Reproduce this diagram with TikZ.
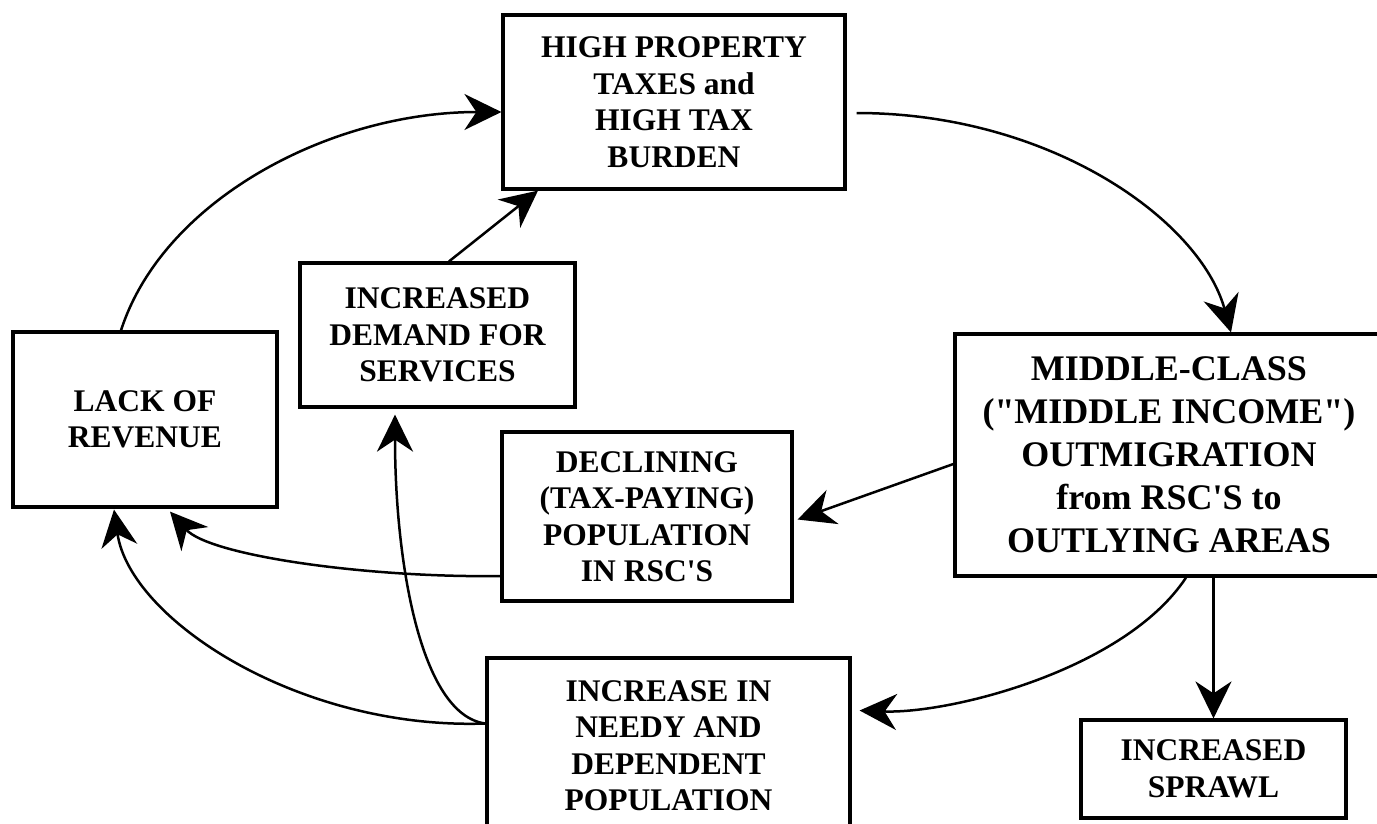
\documentclass[tikz,border=0pt]{standalone}
\usepackage{fontspec}
\newfontfamily\diagfont{Liberation Serif}
\usetikzlibrary{arrows.meta}
\begin{document}
\begin{tikzpicture}[x=1pt,y=-1pt]
\tikzset{
  box/.style={draw, line width=3.2pt, align=center, inner sep=0pt,
    font=\diagfont\bfseries\fontsize{31.5}{36.5}\selectfont},
  bigbox/.style={box, font=\diagfont\bfseries\fontsize{36}{43}\selectfont},
  conn/.style={line width=2.5pt, -{Stealth[length=37pt,width=36pt,inset=12pt]}}
}
\useasboundingbox (0,0) rectangle (1377,823);
\clip (0,0) rectangle (1377,823);
\fill[white] (0,0) rectangle (1377,823);

\node[box, minimum width=342pt, minimum height=174pt] (high) at (674,102)
  {HIGH PROPERTY\\TAXES and\\HIGH TAX\\BURDEN};
\node[box, minimum width=275pt, minimum height=144pt] (demand) at (437.5,335)
  {INCREASED\\DEMAND FOR\\SERVICES};
\node[box, minimum width=264pt, minimum height=175pt] (lack) at (145,419.5)
  {LACK OF\\REVENUE};
\node[box, minimum width=290pt, minimum height=169pt] (declining) at (647,516.5)
  {DECLINING\\(TAX-PAYING)\\POPULATION\\IN RSC'S};
\node[bigbox, minimum width=428pt, minimum height=242pt] (middle) at (1169,455)
  {MIDDLE-CLASS\\("MIDDLE INCOME")\\OUTMIGRATION\\from RSC'S to\\OUTLYING AREAS};
\node[box, minimum width=363pt, minimum height=175pt] (needy) at (668.5,745.5)
  {INCREASE IN\\NEEDY AND\\DEPENDENT\\POPULATION};
\node[box, minimum width=265pt, minimum height=98pt] (sprawl) at (1213.5,769)
  {INCREASED\\SPRAWL};

% connectors
\draw[conn] ([xshift=-24pt]lack.north) .. controls (163,200) and (330,112) .. ([yshift=-10pt]high.west);
\draw[conn] ([xshift=11.5pt]demand.north) -- ([xshift=-136pt]high.south);
\draw[conn] ([xshift=10pt,yshift=-11pt]high.east) .. controls (1050,113) and (1200,220) .. ([xshift=62pt]middle.north);
\draw[conn] ([yshift=-9pt]middle.west) -- ([xshift=4pt,yshift=-3pt]declining.east);
\draw[conn] (middle.south -| sprawl.north) -- (sprawl.north);
\draw[conn] ([xshift=17pt]middle.south) .. controls (1125,670) and (950,714) .. ([xshift=8pt,yshift=35pt]needy.east);
\draw[conn] ([yshift=-59.5pt]declining.west) .. controls (370,578) and (210,556) .. ([xshift=25pt,yshift=-3pt]lack.south);
\draw[conn] ([yshift=22pt]needy.west) .. controls (300,730) and (130,620) .. ([xshift=-31pt,yshift=-1pt]lack.south);
\draw[conn] ([yshift=22pt]needy.west) .. controls (420,715) and (395,560) .. ([xshift=-42.5pt,yshift=-6pt]demand.south);
\end{tikzpicture}
\end{document}
